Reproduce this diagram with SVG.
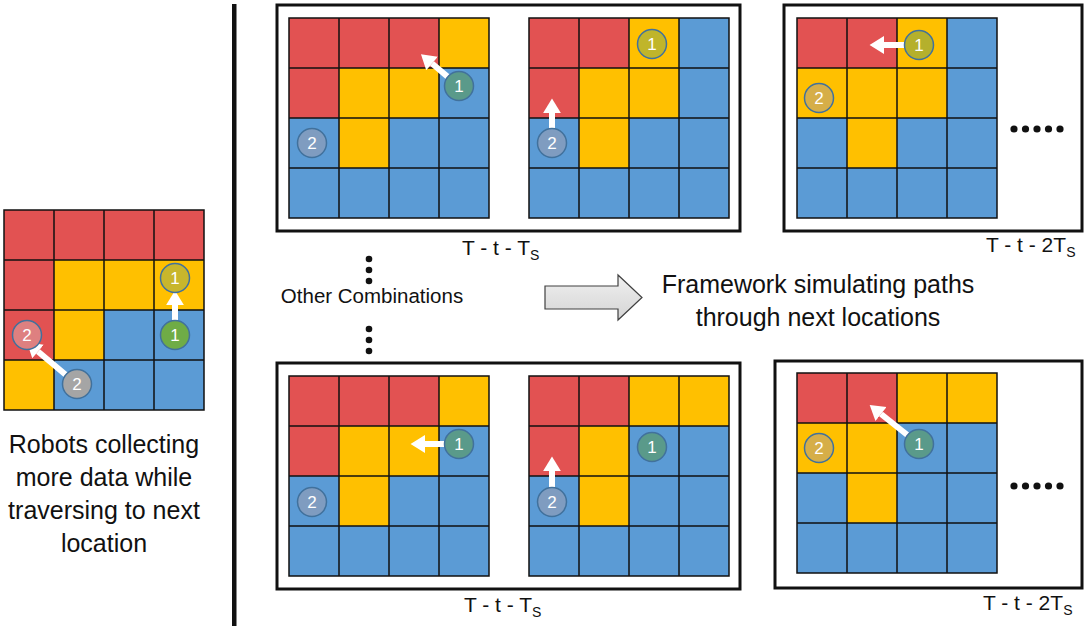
<svg xmlns="http://www.w3.org/2000/svg" xmlns:xlink="http://www.w3.org/1999/xlink" width="1084" height="629" viewBox="0 0 1084 629">
<style>
.r{fill:#E25252}.y{fill:#FFC000}.b{fill:#5B9BD5}
.gl{fill:none;stroke:#111;stroke-width:1.5}
.box{fill:none;stroke:#111;stroke-width:3}
.rb{stroke:#41719C;stroke-width:1.5}
.num{font-family:"Liberation Sans",Arial,sans-serif;font-size:17px;fill:#fff;text-anchor:middle}
.lbl{font-family:"Liberation Sans",Arial,sans-serif;font-size:21px;fill:#111}
.sub{font-size:14px}
.txt{font-family:"Liberation Sans",Arial,sans-serif;fill:#111;text-anchor:middle}
.arr{stroke:#fff;stroke-width:6;fill:none;marker-end:url(#wh)}
.dot{fill:#111}
</style>
<defs>
<marker id="wh" markerUnits="userSpaceOnUse" markerWidth="16" markerHeight="20" viewBox="0 -9 14 18" refX="0" refY="0" orient="auto">
<path d="M0,-8 L13,0 L0,8 z" fill="#fff"/>
</marker>
<path id="gl" class="gl" d="M0,0H200V200H0Z M50,0V200 M100,0V200 M150,0V200 M0,50H200 M0,100H200 M0,150H200"/>
<linearGradient id="ag" x1="0" y1="0" x2="0" y2="1">
<stop offset="0" stop-color="#f0f0f0"/><stop offset="1" stop-color="#d4d4d4"/>
</linearGradient>
</defs>
<rect width="1084" height="629" fill="#fff"/>

<g id="divider"><rect x="232" y="4" width="4.5" height="622" fill="#111"/></g>

<g id="current-grid">
<g transform="translate(4,210)">
<rect class="b" width="200" height="200"/>
<rect class="r" x="0" y="0" width="200" height="50"/>
<rect class="r" x="0" y="50" width="50" height="100"/>
<rect class="y" x="50" y="50" width="150" height="50"/>
<rect class="y" x="50" y="100" width="50" height="50"/>
<rect class="y" x="0" y="150" width="50" height="50"/>
<use xlink:href="#gl"/>
</g>
</g>

<g id="box-top-a"><rect class="box" x="277" y="5" width="463" height="226"/></g>
<g id="box-top-b"><rect class="box" x="784" y="5" width="298" height="226"/></g>
<g id="box-bot-a"><rect class="box" x="277" y="363" width="463" height="226"/></g>
<g id="box-bot-b"><rect class="box" x="775" y="361" width="307" height="227"/></g>

<g id="grid-t1" transform="translate(289,18)">
<rect class="b" width="200" height="200"/>
<rect class="r" x="0" y="0" width="150" height="50"/>
<rect class="r" x="0" y="50" width="50" height="50"/>
<rect class="y" x="150" y="0" width="50" height="50"/>
<rect class="y" x="50" y="50" width="100" height="50"/>
<rect class="y" x="50" y="100" width="50" height="50"/>
<use xlink:href="#gl"/>
</g>
<g id="grid-t2" transform="translate(529,18)">
<rect class="b" width="200" height="200"/>
<rect class="r" x="0" y="0" width="100" height="50"/>
<rect class="r" x="0" y="50" width="50" height="50"/>
<rect class="y" x="100" y="0" width="50" height="50"/>
<rect class="y" x="50" y="50" width="100" height="50"/>
<rect class="y" x="50" y="100" width="50" height="50"/>
<use xlink:href="#gl"/>
</g>
<g id="grid-t3" transform="translate(797,18)">
<rect class="b" width="200" height="200"/>
<rect class="r" x="0" y="0" width="100" height="50"/>
<rect class="y" x="100" y="0" width="50" height="50"/>
<rect class="y" x="0" y="50" width="150" height="50"/>
<rect class="y" x="50" y="100" width="50" height="50"/>
<use xlink:href="#gl"/>
</g>
<g id="grid-b1" transform="translate(289,376)">
<rect class="b" width="200" height="200"/>
<rect class="r" x="0" y="0" width="150" height="50"/>
<rect class="r" x="0" y="50" width="50" height="50"/>
<rect class="y" x="150" y="0" width="50" height="50"/>
<rect class="y" x="50" y="50" width="100" height="50"/>
<rect class="y" x="50" y="100" width="50" height="50"/>
<use xlink:href="#gl"/>
</g>
<g id="grid-b2" transform="translate(529,376)">
<rect class="b" width="200" height="200"/>
<rect class="r" x="0" y="0" width="100" height="50"/>
<rect class="r" x="0" y="50" width="50" height="50"/>
<rect class="y" x="100" y="0" width="100" height="50"/>
<rect class="y" x="50" y="50" width="50" height="100"/>
<use xlink:href="#gl"/>
</g>
<g id="grid-b3" transform="translate(797,373)">
<rect class="b" width="200" height="200"/>
<rect class="r" x="0" y="0" width="100" height="50"/>
<rect class="y" x="100" y="0" width="100" height="50"/>
<rect class="y" x="0" y="50" width="100" height="50"/>
<rect class="y" x="50" y="100" width="50" height="50"/>
<use xlink:href="#gl"/>
</g>

<g id="connectors">
<path class="arr" d="M175,321 V305"/>
<path class="arr" d="M66,375 L38,351.5"/>
<path class="arr" d="M448,77 L432,63.5"/>
<path class="arr" d="M552,129 V113"/>
<path class="arr" d="M905,45 H884"/>
<path class="arr" d="M445,444 H425"/>
<path class="arr" d="M552,488 V471"/>
<path class="arr" d="M908,435.5 L881,414"/>
</g>

<g id="robots">
<g id="r-l1a"><circle class="rb" cx="175" cy="278" r="14.5" fill="#C8B62C"/><text class="num" x="175" y="284">1</text></g>
<g id="r-l1b"><circle class="rb" cx="175" cy="335" r="14.5" fill="#6FAC46"/><text class="num" x="175" y="341">1</text></g>
<g id="r-l2a"><circle class="rb" cx="77" cy="384" r="14.5" fill="#A5A5A5"/><text class="num" x="77" y="390">2</text></g>
<g id="r-l2b"><circle class="rb" cx="27" cy="335" r="14.5" fill="#DE8080"/><text class="num" x="27" y="341">2</text></g>
<g id="r-t1a"><circle class="rb" cx="459" cy="86" r="14.5" fill="#5A9A8A"/><text class="num" x="459" y="92">1</text></g>
<g id="r-t1b"><circle class="rb" cx="312" cy="143" r="14.5" fill="#7F9CC0"/><text class="num" x="312" y="149">2</text></g>
<g id="r-t2a"><circle class="rb" cx="652" cy="44" r="14.5" fill="#C0B52A"/><text class="num" x="652" y="50">1</text></g>
<g id="r-t2b"><circle class="rb" cx="552" cy="143" r="14.5" fill="#7F9CC0"/><text class="num" x="552" y="149">2</text></g>
<g id="r-t3a"><circle class="rb" cx="919" cy="45" r="14.5" fill="#B5B02C"/><text class="num" x="919" y="51">1</text></g>
<g id="r-t3b"><circle class="rb" cx="819" cy="98" r="14.5" fill="#D6AE48"/><text class="num" x="819" y="104">2</text></g>
<g id="r-b1a"><circle class="rb" cx="459" cy="444" r="14.5" fill="#5A9A8A"/><text class="num" x="459" y="450">1</text></g>
<g id="r-b1b"><circle class="rb" cx="312" cy="502" r="14.5" fill="#7F9CC0"/><text class="num" x="312" y="508">2</text></g>
<g id="r-b2a"><circle class="rb" cx="652" cy="447" r="14.5" fill="#5A9A8A"/><text class="num" x="652" y="453">1</text></g>
<g id="r-b2b"><circle class="rb" cx="552" cy="502" r="14.5" fill="#7F9CC0"/><text class="num" x="552" y="508">2</text></g>
<g id="r-b3a"><circle class="rb" cx="919" cy="444" r="14.5" fill="#5A9A8A"/><text class="num" x="919" y="450">1</text></g>
<g id="r-b3b"><circle class="rb" cx="819" cy="448" r="14.5" fill="#D6AE48"/><text class="num" x="819" y="454">2</text></g>
</g>

<g id="labels">
<text class="lbl" x="462" y="255">T - t - T<tspan class="sub" dy="5">S</tspan></text>
<text class="lbl" x="986" y="252">T - t - 2T<tspan class="sub" dy="5">S</tspan></text>
<text class="lbl" x="464" y="612">T - t - T<tspan class="sub" dy="5">S</tspan></text>
<text class="lbl" x="983" y="610">T - t - 2T<tspan class="sub" dy="5">S</tspan></text>
</g>

<g id="ellipses">
<circle class="dot" cx="1014" cy="129" r="3.6"/><circle class="dot" cx="1025.5" cy="129" r="3.6"/><circle class="dot" cx="1037" cy="129" r="3.6"/><circle class="dot" cx="1048.5" cy="129" r="3.6"/><circle class="dot" cx="1060" cy="129" r="3.6"/>
<circle class="dot" cx="1014" cy="486" r="3.6"/><circle class="dot" cx="1025.5" cy="486" r="3.6"/><circle class="dot" cx="1037" cy="486" r="3.6"/><circle class="dot" cx="1048.5" cy="486" r="3.6"/><circle class="dot" cx="1060" cy="486" r="3.6"/>
<circle class="dot" cx="369" cy="259" r="3.3"/><circle class="dot" cx="369" cy="270" r="3.3"/><circle class="dot" cx="369" cy="281" r="3.3"/>
<circle class="dot" cx="369" cy="329" r="3.3"/><circle class="dot" cx="369" cy="340" r="3.3"/><circle class="dot" cx="369" cy="351" r="3.3"/>
</g>

<g id="other-combinations"><text class="txt" x="372" y="303" font-size="20.5">Other Combinations</text></g>

<g id="big-arrow"><path d="M545,286 H618 V275 L642,297.5 L618,320 V309 H545 Z" fill="url(#ag)" stroke="#404040" stroke-width="1.2"/></g>

<g id="framework-text">
<text class="txt" x="818" y="293" font-size="25">Framework simulating paths</text>
<text class="txt" x="818" y="326" font-size="25">through next locations</text>
</g>

<g id="caption">
<text class="txt" x="104" y="453" font-size="25">Robots collecting</text>
<text class="txt" x="104" y="486" font-size="25">more data while</text>
<text class="txt" x="104" y="519" font-size="25">traversing to next</text>
<text class="txt" x="104" y="552" font-size="25">location</text>
</g>
</svg>
